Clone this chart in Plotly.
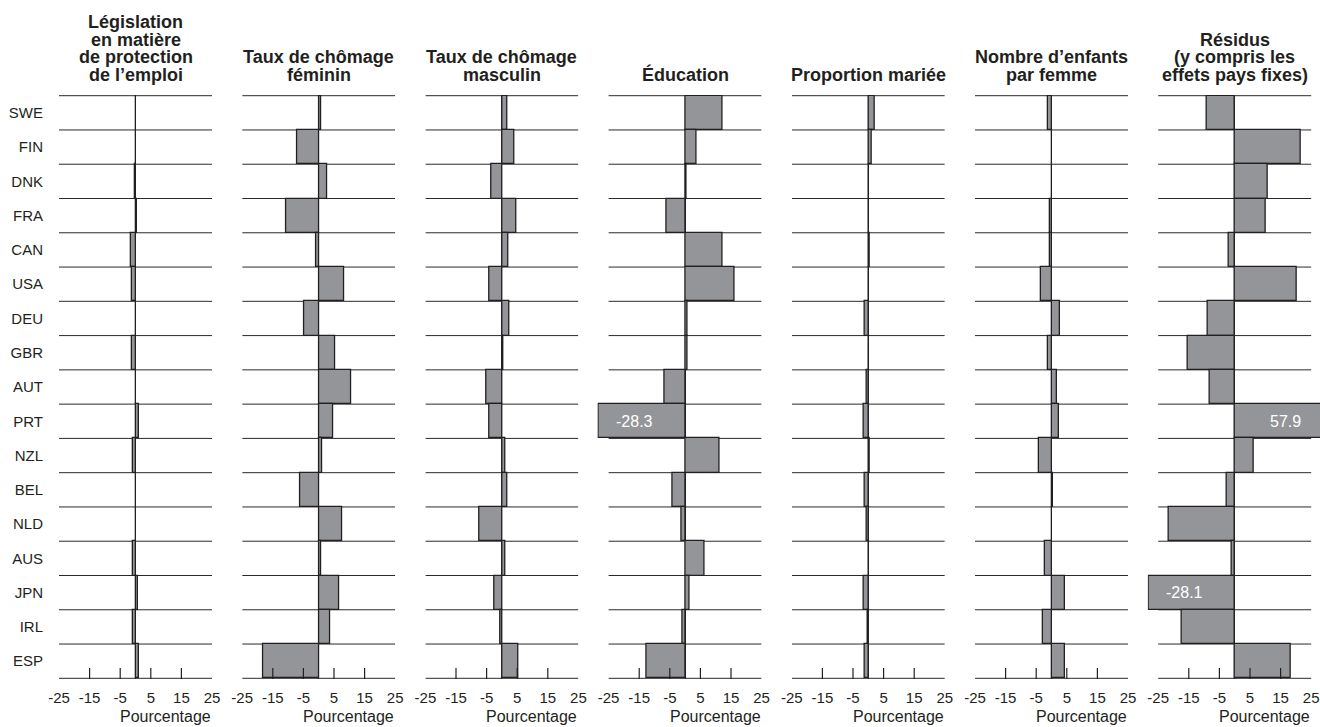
import plotly.graph_objects as go

countries = ["SWE", "FIN", "DNK", "FRA", "CAN", "USA", "DEU", "GBR", "AUT",
             "PRT", "NZL", "BEL", "NLD", "AUS", "JPN", "IRL", "ESP"]

legislation = [0.3, 0.2, -0.3, 0.5, -1.6, -1.2, 0.3, -1.2, 0.3, 1.2, -0.8, 0.3, 0.3, -0.8, 0.8, -0.8, 1.0]
chomage_fem = [0.9, -7.1, 2.7, -10.6, -0.9, 8.3, -4.7, 5.4, 10.5, 4.7, 1.2, -6.2, 7.8, 0.9, 6.6, 3.9, -18.3]
chomage_masc = [1.7, 4.2, -3.4, 4.7, 2.1, -4.2, 2.5, 0.5, -5.0, -4.2, 1.3, 1.7, -7.5, 1.3, -2.5, -0.4, 5.4]
education = [12.2, 3.9, 0.5, -5.9, 12.2, 16.3, 0.9, 0.9, -6.8, -28.3, 11.3, -4.1, -1.3, 6.3, 1.4, -0.7, -12.7]
prop_mariee = [2.0, 1.0, 0.0, 0.0, 0.4, 0.0, -1.0, 0.0, -0.5, -1.5, 0.4, -1.0, -0.4, 0.0, -1.5, -0.3, -1.0]
enfants = [-1.1, 0.0, 0.0, -0.5, -0.5, -3.5, 2.9, -1.1, 1.9, 2.6, -4.1, 0.6, 0.0, -2.0, 4.4, -2.9, 4.4]
residus = [-9.2, 21.6, 10.8, 10.3, -1.9, 20.2, -8.8, -15.2, -8.3, 57.9, 6.3, -2.5, -21.5, -1.0, -28.1, -17.2, 18.3]

series = [legislation, chomage_fem, chomage_masc, education, prop_mariee, enfants, residus]
titles = [
    ["Législation", "en matière", "de protection", "de l’emploi"],
    ["Taux de chômage", "féminin"],
    ["Taux de chômage", "masculin"],
    ["Éducation"],
    ["Proportion mariée"],
    ["Nombre d’enfants", "par femme"],
    ["Résidus", "(y compris les", "effets pays fixes)"],
]
tick_labels = [-25, -15, -5, 5, 15, 25]
inner_ticks = [-15, -5, 5, 15]
x_lo, x_hi = -25, 25
axis_label = "Pourcentage"

W, H = 1320, 727
ML, MR, MT, MB = 59, 0, 95, 48
plot_w = W - ML - MR
plot_h = H - MT - MB
panel_w = 153
step = 183.2
px_per_unit = panel_w / (x_hi - x_lo)
ypad = 0.02

INK = "#231f20"
BAR = "#939598"
FONT = "Liberation Sans, Arial, Helvetica, sans-serif"

fig = go.Figure()
ypos = list(range(len(countries)))
layout_axes = {}
shapes = []
annotations = []

for k, vals in enumerate(series):
    n = "" if k == 0 else str(k + 1)
    # extend the panel range so that bars beyond ±25 keep going past the axis
    lo = min(x_lo, min(vals) - 0.3)
    hi = max(x_hi, max(vals) + 0.3)
    left_px = step * k - (x_lo - lo) * px_per_unit
    right_px = step * k + panel_w + (hi - x_hi) * px_per_unit
    if left_px < 0:
        lo = x_lo - (step * k) / px_per_unit
        left_px = 0
    if right_px > plot_w:
        hi = x_hi + (plot_w - step * k - panel_w) / px_per_unit
        right_px = plot_w

    fig.add_trace(go.Bar(
        x=vals, y=ypos, orientation="h", width=1,
        marker=dict(color=BAR, line=dict(color=INK, width=1.3)),
        xaxis="x" + n, yaxis="y" + n,
        showlegend=False, hoverinfo="x+y",
    ))
    layout_axes["xaxis" + n] = dict(
        domain=[left_px / plot_w, right_px / plot_w], range=[lo, hi], anchor="y" + n,
        tickmode="array", tickvals=tick_labels, ticktext=[str(t) for t in tick_labels],
        ticks="outside", ticklen=5, tickcolor="rgba(0,0,0,0)",
        showgrid=False, zeroline=True, zerolinecolor=INK, zerolinewidth=1,
        showline=False, automargin=False,
        tickfont=dict(size=15, color=INK, family=FONT), fixedrange=True,
    )
    yax = dict(
        domain=[0, 1], range=[len(countries) - 0.5 + ypad, -0.5 - ypad], anchor="x" + n,
        tickmode="array", tickvals=ypos, ticktext=countries,
        showticklabels=(k == 0), ticks="outside" if k == 0 else "",
        ticklen=12, tickcolor="rgba(0,0,0,0)",
        showgrid=False, zeroline=False, showline=False, automargin=False,
        tickfont=dict(size=15, color=INK, family=FONT), fixedrange=True,
    )
    if k > 0:
        yax["matches"] = "y"
    layout_axes["yaxis" + n] = yax

    # row separator lines spanning the -25..25 scale
    for b in range(len(countries) + 1):
        shapes.append(dict(type="line", xref="x" + n, yref="y" + n, layer="below",
                           x0=x_lo, x1=x_hi, y0=b - 0.5, y1=b - 0.5,
                           line=dict(color="#2a2a2a", width=1)))
    # inner tick marks on the bottom axis
    for t in inner_ticks:
        shapes.append(dict(type="line", xref="x" + n, yref="y" + n + " domain",
                           x0=t, x1=t, y0=0, y1=11 / plot_h,
                           line=dict(color=INK, width=1.2)))

    lines = titles[k]
    for i, line in enumerate(lines):
        annotations.append(dict(
            text="<b>" + line + "</b>", xref="x" + n, yref="paper",
            x=(x_lo + x_hi) / 2, y=1, xanchor="center", yanchor="middle",
            yshift=20.5 + 17.5 * (len(lines) - 1 - i), showarrow=False,
            font=dict(size=18, color=INK, family=FONT),
        ))

    annotations.append(dict(
        text=axis_label, xref="x" + n, yref="paper",
        x=x_hi, y=0, xanchor="right", yanchor="middle", yshift=-37, xshift=1,
        showarrow=False, font=dict(size=16, color=INK, family=FONT),
    ))

    for i, v in enumerate(vals):
        if abs(v) > x_hi:
            sgn = 1 if v > 0 else -1
            annotations.append(dict(
                text=f"{v:.1f}", xref="x" + n, yref="y" + n,
                x=sgn * (x_hi - 8.5), y=i, xanchor="center", yanchor="middle",
                showarrow=False, font=dict(size=16, color="white", family=FONT),
            ))

fig.update_layout(
    width=W, height=H,
    margin=dict(l=ML, r=MR, t=MT, b=MB, autoexpand=False),
    paper_bgcolor="white", plot_bgcolor="white",
    bargap=0, shapes=shapes, annotations=annotations,
    font=dict(family=FONT, color=INK),
    **layout_axes,
)

# remove the default page margin so the 1320x727 figure fills the window exactly
fig.write_html(
    "out.html",
    config={"displayModeBar": False},
    post_script="document.body.style.margin='0';document.body.style.overflow='hidden';",
)
